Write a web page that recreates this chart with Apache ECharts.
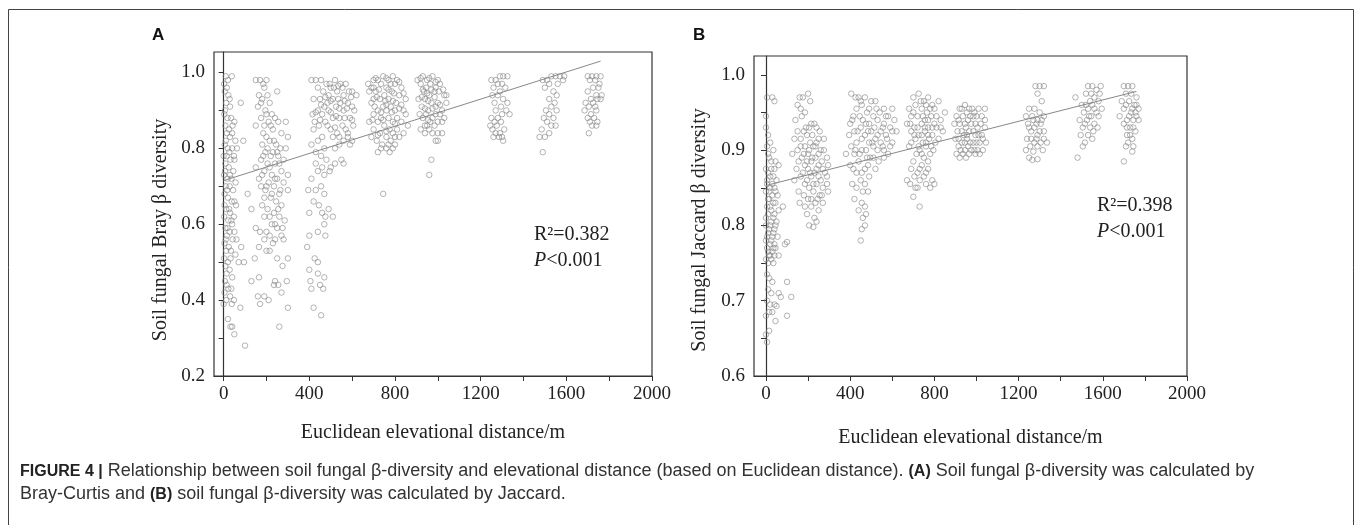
<!DOCTYPE html>
<html>
<head>
<meta charset="utf-8">
<script src="https://cdn.jsdelivr.net/npm/echarts@6/dist/echarts.min.js"></script>
<style>
  html, body { margin: 0; padding: 0; background: #fff; }
  #main { width: 1357px; height: 525px; }
</style>
</head>
<body>
<div id="main"></div>
<script>
// ---- panel A: Bray-Curtis, points grouped by elevation band ----
var braySite1 = [[2,0.97],[10,0.99],[20,0.98],[38,0.99],[5,0.95],[22,0.94],[12,0.92],[30,0.91],[80,0.92],[3,0.89],[18,0.88],[35,0.88],[50,0.87],[8,0.86],[25,0.85],[42,0.86],[15,0.84],[30,0.83],[55,0.82],[92,0.82],[5,0.81],[20,0.80],[40,0.80],[62,0.80],[0,0.78],[14,0.78],[32,0.77],[50,0.77],[8,0.76],[24,0.75],[45,0.74],[2,0.73],[18,0.72],[36,0.72],[56,0.71],[10,0.70],[28,0.70],[44,0.69],[112,0.68],[4,0.68],[20,0.67],[38,0.66],[58,0.65],[12,0.64],[30,0.63],[48,0.62],[2,0.62],[22,0.61],[40,0.60],[8,0.59],[28,0.58],[15,0.57],[42,0.56],[60,0.56],[4,0.55],[24,0.54],[82,0.54],[12,0.53],[34,0.53],[55,0.52],[2,0.51],[20,0.50],[70,0.50],[95,0.50],[8,0.49],[28,0.48],[14,0.47],[40,0.46],[6,0.45],[22,0.43],[4,0.42],[30,0.41],[48,0.40],[12,0.40],[0,0.39],[38,0.39],[78,0.38],[20,0.35],[40,0.33],[32,0.33],[50,0.31],[100,0.28],
  [15,0.96],[28,0.93],[6,0.90],[40,0.84],[10,0.82],[26,0.79],[48,0.78],[6,0.74],[30,0.73],[16,0.69],[50,0.66],[4,0.65],[26,0.64],[36,0.61],[18,0.59],[50,0.58],[10,0.56],[32,0.51],[14,0.44],[36,0.43]];
var braySite2 = [[150,0.98],[170,0.98],[200,0.98],[190,0.96],[250,0.95],[165,0.94],[205,0.94],[180,0.93],[215,0.92],[160,0.91],[195,0.90],[225,0.89],[240,0.88],[175,0.88],[210,0.87],[255,0.87],[190,0.86],[150,0.86],[290,0.87],[230,0.85],[300,0.83],[270,0.84],[200,0.83],[215,0.82],[180,0.81],[245,0.81],[265,0.80],[290,0.80],[195,0.79],[230,0.79],[220,0.78],[255,0.78],[175,0.77],[280,0.77],[205,0.76],[240,0.76],[150,0.75],[270,0.74],[190,0.74],[225,0.73],[300,0.73],[165,0.72],[250,0.72],[210,0.71],[280,0.71],[175,0.70],[235,0.70],[195,0.69],[260,0.68],[300,0.69],[220,0.67],[245,0.66],[180,0.65],[270,0.65],[205,0.64],[235,0.63],[130,0.64],[260,0.62],[190,0.62],[285,0.61],[225,0.60],[250,0.59],[150,0.59],[170,0.58],[215,0.57],[270,0.57],[240,0.56],[190,0.56],[165,0.54],[200,0.53],[215,0.53],[145,0.51],[250,0.51],[300,0.51],[275,0.49],[130,0.45],[165,0.46],[240,0.45],[255,0.44],[295,0.45],[160,0.41],[190,0.41],[210,0.40],[235,0.44],[170,0.39],[270,0.42],[300,0.38],[260,0.33],
  [185,0.97],[175,0.92],[200,0.89],[220,0.86],[185,0.84],[235,0.82],[205,0.80],[250,0.79],[185,0.78],[260,0.76],[215,0.75],[180,0.73],[240,0.72],[200,0.70],[265,0.69],[225,0.68],[190,0.67],[255,0.64],[215,0.62],[240,0.60],[275,0.59],[200,0.58],[230,0.55],[280,0.56]];
var braySite3 = [[410,0.98],[430,0.98],[455,0.98],[480,0.97],[520,0.98],[545,0.97],[570,0.97],[500,0.96],[440,0.96],[465,0.95],[530,0.95],[560,0.94],[600,0.95],[620,0.94],[490,0.94],[420,0.93],[450,0.93],[510,0.93],[545,0.92],[580,0.92],[470,0.91],[525,0.91],[600,0.91],[440,0.90],[490,0.90],[560,0.90],[415,0.89],[460,0.89],[510,0.88],[540,0.88],[590,0.88],[425,0.87],[475,0.87],[555,0.86],[605,0.86],[445,0.86],[500,0.85],[530,0.84],[420,0.85],[580,0.84],[460,0.83],[510,0.83],[560,0.82],[440,0.82],[590,0.81],[470,0.80],[410,0.81],[540,0.81],[430,0.79],[455,0.78],[480,0.77],[520,0.76],[560,0.76],[500,0.75],[440,0.74],[470,0.73],[410,0.72],[455,0.70],[430,0.69],[395,0.69],[470,0.68],[420,0.66],[445,0.65],[490,0.64],[460,0.63],[400,0.63],[475,0.62],[510,0.62],[470,0.60],[440,0.58],[475,0.57],[400,0.57],[390,0.54],[425,0.51],[440,0.50],[400,0.48],[440,0.47],[470,0.46],[405,0.45],[450,0.44],[410,0.43],[465,0.43],[420,0.38],[455,0.36],
  [495,0.97],[515,0.96],[535,0.965],[555,0.96],[585,0.95],[475,0.935],[500,0.925],[535,0.93],[565,0.925],[595,0.935],[455,0.915],[485,0.92],[540,0.905],[575,0.905],[610,0.90],[430,0.895],[500,0.895],[525,0.885],[565,0.88],[600,0.875],[450,0.875],[485,0.86],[520,0.855],[570,0.85],[540,0.83],[580,0.83],[600,0.82],[520,0.80],[550,0.77],[495,0.74],[430,0.76],[460,0.75]];
var braySite4 = [[675,0.97],[700,0.98],[720,0.98],[745,0.99],[770,0.98],[790,0.99],[810,0.98],[690,0.96],[735,0.97],[760,0.96],[800,0.97],[830,0.96],[680,0.95],[710,0.95],[750,0.94],[785,0.95],[820,0.94],[700,0.93],[730,0.93],[770,0.93],[805,0.92],[850,0.93],[690,0.92],[745,0.91],[780,0.91],[720,0.90],[760,0.90],[800,0.90],[840,0.90],[700,0.89],[735,0.88],[770,0.88],[810,0.88],[680,0.87],[720,0.87],[790,0.87],[830,0.87],[750,0.86],[700,0.85],[775,0.85],[810,0.85],[860,0.86],[730,0.84],[790,0.84],[690,0.83],[760,0.83],[820,0.83],[715,0.82],[780,0.82],[740,0.81],[800,0.81],[760,0.80],[720,0.79],[775,0.79],[790,0.80],[745,0.68],
  [710,0.985],[760,0.985],[780,0.97],[820,0.975],[700,0.96],[725,0.955],[770,0.955],[795,0.945],[840,0.945],[715,0.935],[755,0.925],[790,0.925],[830,0.915],[705,0.91],[760,0.915],[820,0.905],[735,0.895],[785,0.895],[850,0.89],[695,0.875],[745,0.875],[800,0.865],[760,0.845],[720,0.835],[800,0.83],[840,0.84],[735,0.80],[770,0.81]];
var braySite5 = [[905,0.98],[930,0.99],[950,0.98],[975,0.99],[1000,0.98],[920,0.97],[945,0.96],[965,0.97],[990,0.96],[1010,0.97],[935,0.95],[960,0.94],[985,0.95],[1030,0.94],[1040,0.94],[910,0.93],[940,0.93],[970,0.92],[1000,0.92],[925,0.91],[955,0.90],[990,0.91],[1020,0.90],[945,0.89],[975,0.88],[1010,0.89],[930,0.88],[965,0.87],[1000,0.87],[1030,0.88],[950,0.86],[985,0.86],[920,0.85],[960,0.85],[1000,0.84],[940,0.84],[975,0.84],[1020,0.84],[990,0.82],[1000,0.82],[970,0.77],[960,0.73],
  [920,0.985],[960,0.985],[990,0.975],[930,0.955],[970,0.955],[1005,0.95],[950,0.945],[1025,0.955],[925,0.935],[985,0.935],[955,0.925],[1010,0.915],[940,0.905],[975,0.905],[1040,0.92],[915,0.89],[990,0.89],[955,0.875],[1020,0.87],[940,0.86]];
var braySite6 = [[1250,0.98],[1270,0.98],[1290,0.99],[1305,0.99],[1325,0.99],[1280,0.97],[1300,0.97],[1260,0.96],[1290,0.95],[1315,0.96],[1255,0.94],[1280,0.94],[1305,0.93],[1325,0.92],[1265,0.92],[1295,0.91],[1320,0.90],[1270,0.90],[1300,0.89],[1250,0.88],[1280,0.88],[1335,0.89],[1265,0.87],[1295,0.87],[1245,0.86],[1275,0.86],[1310,0.85],[1255,0.85],[1290,0.84],[1270,0.84],[1300,0.83],[1260,0.83],[1285,0.83],[1305,0.82]];
var braySite7 = [[1490,0.98],[1510,0.98],[1530,0.99],[1550,0.99],[1570,0.99],[1590,0.99],[1520,0.97],[1560,0.97],[1585,0.98],[1500,0.96],[1540,0.95],[1555,0.94],[1520,0.93],[1545,0.92],[1530,0.91],[1505,0.90],[1555,0.90],[1520,0.89],[1540,0.88],[1495,0.88],[1510,0.87],[1530,0.86],[1550,0.86],[1485,0.85],[1520,0.84],[1475,0.83],[1500,0.83],[1490,0.79]];
var braySite8 = [[1700,0.99],[1720,0.99],[1740,0.99],[1760,0.99],[1710,0.98],[1735,0.98],[1755,0.97],[1725,0.96],[1750,0.96],[1700,0.95],[1740,0.94],[1765,0.94],[1715,0.93],[1745,0.93],[1690,0.92],[1725,0.92],[1760,0.93],[1705,0.91],[1735,0.91],[1685,0.90],[1715,0.89],[1740,0.90],[1700,0.88],[1730,0.88],[1710,0.87],[1745,0.87],[1720,0.86],[1740,0.86],[1705,0.84]];
var brayFit = [[0,0.715],[1760,1.03]];

// ---- panel B: Jaccard ----
var jacSite1 = [[5,0.97],[30,0.97],[40,0.965],[0,0.945],[0,0.93],[10,0.92],[20,0.91],[5,0.905],[35,0.90],[15,0.89],[45,0.885],[60,0.88],[0,0.875],[25,0.875],[10,0.87],[35,0.865],[50,0.86],[5,0.855],[20,0.85],[40,0.85],[0,0.845],[30,0.84],[55,0.84],[15,0.835],[45,0.83],[5,0.825],[25,0.82],[60,0.82],[80,0.825],[10,0.815],[35,0.81],[50,0.805],[0,0.80],[20,0.80],[40,0.795],[10,0.79],[30,0.785],[55,0.785],[0,0.78],[20,0.775],[45,0.77],[90,0.775],[100,0.778],[5,0.77],[30,0.765],[15,0.76],[40,0.76],[25,0.755],[60,0.76],[10,0.75],[35,0.75],[5,0.735],[15,0.73],[30,0.725],[100,0.725],[10,0.715],[25,0.71],[60,0.71],[70,0.705],[120,0.705],[5,0.70],[20,0.695],[40,0.695],[50,0.693],[15,0.685],[0,0.68],[30,0.685],[100,0.68],[45,0.673],[15,0.66],[0,0.655],[5,0.645],
  [10,0.895],[25,0.885],[40,0.875],[20,0.865],[5,0.86],[30,0.855],[15,0.845],[45,0.845],[10,0.835],[35,0.83],[20,0.825],[40,0.815],[0,0.81],[25,0.805],[45,0.80],[15,0.795],[35,0.79],[5,0.785],[25,0.78],[40,0.775],[10,0.765],[20,0.76],[35,0.77],[0,0.755]];
var jacSite2 = [[150,0.96],[160,0.97],[175,0.97],[200,0.975],[210,0.965],[165,0.955],[185,0.95],[140,0.94],[170,0.945],[205,0.93],[230,0.935],[150,0.925],[180,0.925],[240,0.93],[195,0.92],[220,0.92],[255,0.925],[135,0.915],[165,0.915],[210,0.91],[240,0.91],[275,0.915],[185,0.905],[225,0.905],[260,0.90],[150,0.90],[200,0.895],[290,0.89],[170,0.89],[235,0.89],[125,0.895],[215,0.885],[265,0.885],[185,0.88],[250,0.88],[295,0.88],[145,0.875],[200,0.875],[230,0.87],[280,0.87],[165,0.865],[215,0.865],[260,0.86],[135,0.86],[185,0.855],[240,0.855],[290,0.855],[205,0.85],[270,0.85],[155,0.845],[225,0.845],[180,0.84],[255,0.84],[295,0.845],[200,0.835],[235,0.83],[160,0.83],[270,0.83],[215,0.825],[250,0.82],[195,0.815],[230,0.81],[240,0.805],[205,0.80],[225,0.798],
  [190,0.93],[215,0.935],[250,0.915],[165,0.905],[235,0.905],[205,0.90],[275,0.90],[180,0.895],[250,0.895],[220,0.89],[155,0.885],[195,0.885],[240,0.875],[270,0.875],[210,0.87],[175,0.87],[250,0.865],[290,0.865],[195,0.86],[225,0.855],[265,0.84],[215,0.835],[245,0.835],[185,0.825]];
var jacSite3 = [[405,0.975],[425,0.97],[450,0.965],[470,0.97],[500,0.965],[520,0.965],[455,0.96],[430,0.955],[480,0.95],[560,0.955],[600,0.955],[415,0.945],[445,0.945],[510,0.945],[540,0.95],[580,0.945],[400,0.935],[460,0.94],[490,0.935],[530,0.94],[560,0.935],[610,0.94],[420,0.925],[450,0.93],[500,0.925],[545,0.925],[590,0.93],[395,0.92],[470,0.92],[520,0.915],[570,0.92],[620,0.925],[430,0.91],[490,0.91],[555,0.905],[600,0.91],[405,0.905],[455,0.90],[530,0.90],[580,0.895],[420,0.895],[480,0.89],[380,0.895],[510,0.89],[440,0.885],[560,0.89],[400,0.88],[470,0.875],[520,0.875],[430,0.87],[490,0.865],[450,0.86],[410,0.855],[470,0.855],[430,0.85],[460,0.845],[485,0.845],[420,0.835],[455,0.83],[470,0.825],[440,0.82],[475,0.815],[460,0.81],[470,0.80],[455,0.795],[450,0.78],
  [440,0.97],[490,0.955],[525,0.955],[570,0.945],[410,0.94],[475,0.935],[515,0.93],[555,0.93],[600,0.925],[435,0.925],[485,0.925],[530,0.92],[575,0.915],[455,0.915],[505,0.91],[545,0.91],[590,0.905],[425,0.90],[475,0.90],[510,0.905],[560,0.90],[445,0.895],[495,0.89],[535,0.885],[415,0.875],[455,0.87],[485,0.88]];
var jacSite4 = [[700,0.97],[725,0.975],[750,0.965],[770,0.97],[790,0.96],[820,0.965],[680,0.955],[710,0.96],[740,0.955],[765,0.95],[800,0.955],[850,0.95],[690,0.945],[720,0.945],[755,0.94],[785,0.945],[830,0.94],[670,0.935],[705,0.93],[740,0.935],[770,0.93],[810,0.93],[690,0.925],[725,0.92],[755,0.925],[790,0.92],[840,0.925],[710,0.915],[745,0.91],[775,0.915],[805,0.91],[680,0.905],[730,0.90],[760,0.905],[795,0.90],[715,0.895],[750,0.89],[780,0.895],[700,0.885],[740,0.88],[690,0.875],[770,0.875],[720,0.87],[705,0.865],[750,0.865],[670,0.86],[730,0.86],[790,0.86],[685,0.855],[760,0.855],[800,0.855],[720,0.85],[780,0.85],[700,0.838],[730,0.825],
  [735,0.965],[760,0.96],[780,0.955],[810,0.945],[700,0.95],[745,0.945],[770,0.94],[800,0.935],[685,0.935],[720,0.93],[755,0.93],[790,0.93],[830,0.93],[705,0.92],[740,0.92],[770,0.92],[820,0.915],[690,0.91],[725,0.905],[760,0.91],[785,0.905],[740,0.895],[770,0.885],[730,0.875],[760,0.87],[710,0.85]];
var jacSite5 = [[920,0.955],[945,0.96],[965,0.955],[990,0.95],[1010,0.955],[1040,0.955],[905,0.945],[935,0.945],[960,0.94],[985,0.945],[1025,0.945],[895,0.935],[920,0.935],[950,0.93],[975,0.935],[1005,0.93],[1040,0.93],[910,0.925],[940,0.92],[965,0.925],[995,0.92],[1025,0.92],[900,0.915],[930,0.91],[955,0.915],[985,0.91],[1015,0.91],[1045,0.91],[915,0.905],[945,0.90],[975,0.90],[1005,0.90],[935,0.895],[965,0.895],[995,0.895],[1030,0.90],[905,0.895],[920,0.89],
  [930,0.955],[955,0.95],[980,0.955],[1000,0.945],[915,0.94],[945,0.935],[970,0.945],[995,0.935],[1020,0.935],[930,0.925],[955,0.92],[985,0.925],[1010,0.92],[1040,0.94],[915,0.915],[945,0.91],[970,0.91],[1000,0.91],[1030,0.915],[925,0.90],[960,0.905],[990,0.90],[1015,0.895],[950,0.89]];
var jacSite6 = [[1280,0.985],[1300,0.985],[1320,0.985],[1290,0.975],[1310,0.965],[1250,0.955],[1275,0.955],[1300,0.95],[1235,0.945],[1265,0.945],[1290,0.94],[1320,0.945],[1245,0.935],[1275,0.93],[1305,0.935],[1260,0.925],[1290,0.92],[1320,0.925],[1240,0.915],[1275,0.91],[1305,0.91],[1335,0.91],[1255,0.905],[1290,0.905],[1235,0.90],[1270,0.898],[1315,0.90],[1250,0.89],[1290,0.888],[1265,0.887],
  [1285,0.935],[1300,0.925],[1260,0.915],[1285,0.915],[1320,0.915],[1250,0.93],[1310,0.94],[1270,0.94]];
var jacSite7 = [[1530,0.985],[1550,0.985],[1570,0.98],[1590,0.985],[1520,0.975],[1560,0.97],[1540,0.965],[1580,0.965],[1500,0.96],[1530,0.955],[1560,0.955],[1595,0.955],[1510,0.95],[1545,0.945],[1580,0.945],[1490,0.94],[1525,0.94],[1560,0.935],[1505,0.93],[1540,0.93],[1575,0.93],[1495,0.92],[1530,0.92],[1550,0.915],[1515,0.91],[1505,0.905],[1480,0.89],[1470,0.97],
  [1550,0.96],[1520,0.96],[1570,0.95],[1535,0.945],[1515,0.935],[1555,0.925],[1545,0.975],[1585,0.975]];
var jacSite8 = [[1700,0.985],[1720,0.985],[1740,0.985],[1710,0.975],[1735,0.975],[1760,0.97],[1690,0.965],[1725,0.965],[1750,0.96],[1770,0.955],[1700,0.955],[1735,0.95],[1760,0.945],[1680,0.945],[1715,0.94],[1745,0.94],[1770,0.94],[1700,0.935],[1730,0.93],[1755,0.925],[1715,0.92],[1740,0.915],[1720,0.91],[1745,0.905],[1710,0.905],[1740,0.898],[1700,0.885],
  [1710,0.96],[1740,0.955],[1725,0.945],[1755,0.95],[1715,0.93],[1745,0.93],[1730,0.92],[1760,0.96]];
var jacFit = [[0,0.853],[1760,0.978]];

var xLabels = [0, 400, 800, 1200, 1600, 2000];
var xTicks = [0, 200, 400, 600, 800, 1000, 1200, 1400, 1600, 1800, 2000];
var brayLabels = [0.2, 0.4, 0.6, 0.8, 1.0];
var brayTicks = [0.2, 0.3, 0.4, 0.5, 0.6, 0.7, 0.8, 0.9, 1.0];
var jacLabels = [0.6, 0.7, 0.8, 0.9, 1.0];
var jacTicks = [0.6, 0.65, 0.7, 0.75, 0.8, 0.85, 0.9, 0.95, 1.0];

var brayPts = [].concat(braySite1, braySite2, braySite3, braySite4, braySite5, braySite6, braySite7, braySite8);
var jacPts = [].concat(jacSite1, jacSite2, jacSite3, jacSite4, jacSite5, jacSite6, jacSite7, jacSite8);

var serif = '"Liberation Serif", "DejaVu Serif", serif';
var sans = '"Liberation Sans", Arial, sans-serif';
var axisCol = '#333';

function xAxisFor(idx, min, gap) {
  return {
    type: 'value', gridIndex: idx, min: min, max: 2000,
    name: 'Euclidean elevational distance/m', nameLocation: 'middle', nameGap: gap,
    nameTextStyle: { fontFamily: serif, fontSize: 20, color: '#222' },
    axisLine: { lineStyle: { color: axisCol, width: 1.2 } },
    axisTick: { show: true, length: 5, customValues: xTicks, lineStyle: { color: axisCol } },
    axisLabel: {
      customValues: xLabels, margin: 9, fontFamily: serif, fontSize: 19, color: '#222',
      formatter: function (v) { return String(v); }
    },
    splitLine: { show: false }
  };
}
function yAxisFor(idx, min, max, labels, ticks) {
  return {
    type: 'value', gridIndex: idx, min: min, max: max,
    axisLine: { lineStyle: { color: axisCol, width: 1.2 } },
    axisTick: { show: true, length: 5, customValues: ticks, lineStyle: { color: axisCol } },
    axisLabel: {
      customValues: labels, margin: 9, fontFamily: serif, fontSize: 19, color: '#222',
      formatter: function (v) { return v.toFixed(1); }
    },
    splitLine: { show: false }
  };
}

var ptStyle = { color: 'transparent', borderColor: '#888', borderWidth: 0.8 };
var statRich = {
  n: { fontFamily: serif, fontSize: 20, fontWeight: 'normal', color: '#222', lineHeight: 26 },
  i: { fontFamily: serif, fontSize: 20, fontWeight: 'normal', fontStyle: 'italic', color: '#222', lineHeight: 26 }
};

var chart = echarts.init(document.getElementById('main'), null, { renderer: 'canvas' });

var option = {
  backgroundColor: '#fff',
  animation: false,
  grid: [
    { left: 214, top: 52, width: 438, height: 324, show: true, borderColor: axisCol, borderWidth: 1.2, backgroundColor: 'transparent' },
    { left: 754, top: 56, width: 433, height: 320, show: true, borderColor: axisCol, borderWidth: 1.2, backgroundColor: 'transparent' }
  ],
  xAxis: [xAxisFor(0, -45, 47), xAxisFor(1, -57, 52)],
  yAxis: [
    yAxisFor(0, 0.2, 1.054, brayLabels, brayTicks),
    yAxisFor(1, 0.6, 1.025, jacLabels, jacTicks)
  ],
  title: [
    { text: 'A', left: 147, top: 22, textStyle: { fontFamily: sans, fontSize: 17, fontWeight: 'bold', color: '#111' } },
    { text: 'B', left: 688, top: 22, textStyle: { fontFamily: sans, fontSize: 17, fontWeight: 'bold', color: '#111' } },
    { text: '{n|R²=0.382}\n{i|P}{n|<0.001}', left: 529, top: 217, textStyle: { rich: statRich } },
    { text: '{n|R²=0.398}\n{i|P}{n|<0.001}', left: 1092, top: 188, textStyle: { rich: statRich } }
  ],
  graphic: [
    { type: 'rect', shape: { x: 8.5, y: 9.5, width: 1345, height: 540 }, style: { fill: 'none', stroke: '#444', lineWidth: 1 }, silent: true },
    {
      type: 'text', x: 161, y: 230, rotation: Math.PI / 2, silent: true,
      style: { text: 'Soil fungal Bray β diversity', align: 'center', verticalAlign: 'middle', fontFamily: serif, fontSize: 20, fill: '#222' }
    },
    {
      type: 'text', x: 700, y: 230, rotation: Math.PI / 2, silent: true,
      style: { text: 'Soil fungal Jaccard β diversity', align: 'center', verticalAlign: 'middle', fontFamily: serif, fontSize: 20, fill: '#222' }
    },
    {
      type: 'text', x: 20, y: 460, silent: true,
      style: {
        text: '{b|FIGURE 4 |} Relationship between soil fungal β-diversity and elevational distance (based on Euclidean distance). {b|(A)} Soil fungal β-diversity was calculated by\nBray-Curtis and {b|(B)} soil fungal β-diversity was calculated by Jaccard.',
        fontFamily: sans, fontSize: 18, fill: '#333', lineHeight: 23,
        rich: { b: { fontWeight: 'bold', fontFamily: sans, fontSize: 16, fill: '#222' } }
      }
    }
  ],
  series: [
    { type: 'scatter', xAxisIndex: 0, yAxisIndex: 0, data: brayPts, symbol: 'circle', symbolSize: 5.5, itemStyle: ptStyle },
    { type: 'line', xAxisIndex: 0, yAxisIndex: 0, data: brayFit, showSymbol: false, symbol: 'none', lineStyle: { color: '#888', width: 1 } },
    { type: 'scatter', xAxisIndex: 1, yAxisIndex: 1, data: jacPts, symbol: 'circle', symbolSize: 5.5, itemStyle: ptStyle },
    { type: 'line', xAxisIndex: 1, yAxisIndex: 1, data: jacFit, showSymbol: false, symbol: 'none', lineStyle: { color: '#888', width: 1 } }
  ]
};

chart.setOption(option);
</script>
</body>
</html>
